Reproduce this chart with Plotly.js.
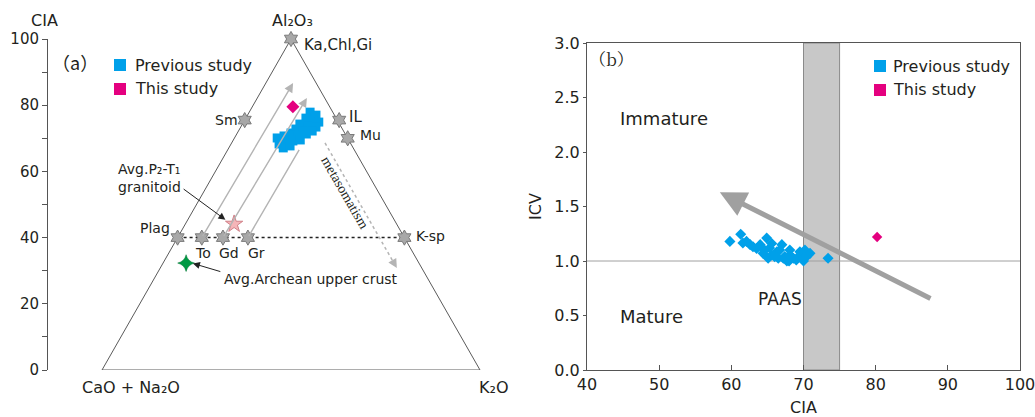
<!DOCTYPE html>
<html><head><meta charset="utf-8">
<script src="https://cdn.plot.ly/plotly-3.0.1.min.js"></script>
<style>html,body{margin:0;padding:0;background:#fff}</style>
</head><body><div id="chart" style="width:1035px;height:417px"></div>
<script>
// ---------- Panel (a): A-CN-K ternary (values in % : Al2O3 = CIA, K2O) ----------
const triAl = [0, 0, 100, 0];
const triK  = [0, 100, 0, 0];
const mineralNames = ['Ka,Chl,Gi','Sm','IL','Mu','Plag','To','Gd','Gr','K-sp'];
const mineralAl = [100, 75.5, 75.5, 70, 40, 40, 40, 40, 40];
const mineralK  = [0, 0, 25, 30, 0, 6.4, 12, 18.6, 60];
const prevAl = [77.9,77.0,76.1,75.5,74.9,74.3,73.7,73.4,72.8,72.2,72.2,71.6,70.1,70.7,71.0,70.7,68.3,68.9,69.2,69.5,67.1,67.7,71.3];
const prevK  = [16.1,18.1,15.9,18.1,19.9,15.2,17.6,19.9,14.9,17.1,19.5,14.2,11.3,12.8,14.5,16.5,12.7,14.3,15.9,17.7,14.4,15.9,18.4];
const thisAl = [79.5], thisK = [10.75];
const granitoidAl = [44.1], granitoidK = [12.9];
const archeanAl = [32.3], archeanK = [6.1];
const trendFrom = ['To','Gd','Gr'];
const trendTipAl = [86.7, 82.2, 66.5];
const trendTipK  = [7.2, 13.1, 18.9];
const metaAl = [68.6, 30.8], metaK = [24.7, 62.6];

// ---------- Panel (b): CIA vs ICV ----------
const prevCIA = [59.8,61.3,61.6,62.1,62.6,63.0,63.5,64.0,64.4,64.6,64.9,65.1,65.3,65.6,65.6,66.0,66.3,66.5,66.7,67.0,67.2,67.4,67.7,67.9,68.1,68.1,68.6,69.0,69.3,69.5,69.7,70.0,70.2,70.4,70.9,73.4,68.0,70.0];
const prevICV = [1.18,1.245,1.165,1.18,1.15,1.13,1.115,1.15,1.07,1.10,1.21,1.025,1.12,1.055,1.16,1.04,1.085,1.025,1.10,1.15,1.025,1.04,1.0,1.01,1.055,1.10,1.025,1.01,1.04,1.085,1.055,1.025,1.10,1.04,1.07,1.025,1.0,1.0];
const thisCIA = [80.2], thisICV = [1.22];
const paasCIA = [70, 75];
const icvLimit = 1.0;
const trendB = {fromCIA: 87.8, fromICV: 0.65, toCIA: 58.4, toICV: 1.63};

const W = 1035, H = 417;
const FONT = 'DejaVu Sans, Liberation Sans, sans-serif';
const TXT = '#231f20';
const BLUE = '#00a0e9', PINK = '#e4007f';
const tx = (a, k) => k + a / 2;           // ternary -> cartesian x
const projX = (A, K) => A.map((a, i) => tx(a, K[i]));
const mi = n => mineralNames.indexOf(n);

const traces = [
  {x: projX(triAl, triK), y: triAl, mode: 'lines', line: {color: '#5a5a5a', width: 1}, hoverinfo: 'skip', xaxis: 'x', yaxis: 'y'},
  {x: [tx(mineralAl[mi('Plag')], mineralK[mi('Plag')]), tx(mineralAl[mi('K-sp')], mineralK[mi('K-sp')])],
   y: [mineralAl[mi('Plag')], mineralAl[mi('K-sp')]], mode: 'lines',
   line: {color: '#222', width: 1.5, dash: 'dot'}, xaxis: 'x', yaxis: 'y'},
  {x: [tx(metaAl[0], metaK[0]), tx(metaAl[0] + (metaAl[1]-metaAl[0])*0.95, metaK[0] + (metaK[1]-metaK[0])*0.95)],
   y: [metaAl[0], metaAl[0] + (metaAl[1]-metaAl[0])*0.95], mode: 'lines',
   line: {color: '#b4b4b4', width: 1.5, dash: 'dot'}, xaxis: 'x', yaxis: 'y'},
  {x: projX(mineralAl, mineralK), y: mineralAl, mode: 'markers', cliponaxis: false,
   marker: {symbol: 'hexagram', size: 11.5, color: '#a8a8a8', line: {color: '#7a7a7a', width: 1}}, xaxis: 'x', yaxis: 'y'},
  {x: projX(prevAl, prevK), y: prevAl, mode: 'markers', cliponaxis: false,
   marker: {symbol: 'square', size: 9, color: BLUE}, xaxis: 'x', yaxis: 'y'},
  {x: projX(thisAl, thisK), y: thisAl, mode: 'markers',
   marker: {symbol: 'diamond', size: 10, color: PINK}, xaxis: 'x', yaxis: 'y'},
  {x: projX(granitoidAl, granitoidK), y: granitoidAl, mode: 'markers',
   marker: {symbol: 'star', size: 13, color: '#f5b5b8', line: {color: '#d08088', width: 1}}, xaxis: 'x', yaxis: 'y'},
  {x: projX(archeanAl, archeanK), y: archeanAl, mode: 'markers',
   marker: {symbol: 'star-diamond', size: 12, color: '#009944', line: {color: '#007733', width: 0.5}}, xaxis: 'x', yaxis: 'y'},
  // panel b
  {x: prevCIA, y: prevICV, mode: 'markers', marker: {symbol: 'diamond', size: 8.5, color: BLUE}, xaxis: 'x2', yaxis: 'y2'},
  {x: thisCIA, y: thisICV, mode: 'markers', marker: {symbol: 'diamond', size: 8, color: PINK}, xaxis: 'x2', yaxis: 'y2'}
];

const P = (text, px, py, o = {}) => Object.assign({
  text, x: px / W, y: 1 - py / H, xref: 'paper', yref: 'paper', showarrow: false,
  xanchor: 'center', yanchor: 'middle', font: {family: FONT, size: 14, color: TXT}
}, o);
const F = (size, family) => ({family: family || FONT, size, color: TXT});

const annotations = [
  // panel a text
  P('CIA', 44, 20, {font: F(16)}),
  P('Al₂O₃', 292, 20, {font: F(16)}),
  P('CaO + Na₂O', 131, 387, {font: F(16)}),
  P('K₂O', 494, 387, {font: F(16)}),
  P('（a）', 75, 62, {font: F(18, 'Noto Sans CJK SC')}),
  P('Ka,Chl,Gi', 302, 45, {xanchor: 'left', font: F(15)}),
  P('Sm', 240, 120, {xanchor: 'right'}),
  P('IL', 347, 117, {xanchor: 'left', font: F(15)}),
  P('Mu', 358, 135, {xanchor: 'left'}),
  P('Plag', 172, 228, {xanchor: 'right'}),
  P('To', 203, 253), P('Gd', 229, 253), P('Gr', 256, 253),
  P('K-sp', 414, 236, {xanchor: 'left'}),
  P('Avg.P₂-T₁<br>granitoid', 116, 178, {xanchor: 'left', align: 'left'}),
  P('Avg.Archean upper crust', 222, 279, {xanchor: 'left'}),
  P('metasomatism', 345, 192, {textangle: 60, font: F(14, 'Liberation Serif, serif')}),
  P('Previous study', 133, 65, {xanchor: 'left', font: F(16)}),
  P('This study', 133, 88.5, {xanchor: 'left', font: F(16)}),
  // panel b text
  P('（b）', 611, 58, {font: F(17, 'Noto Serif CJK SC, Noto Sans CJK SC')}),
  P('Previous study', 891, 66, {xanchor: 'left', font: F(16)}),
  P('This study', 891, 89.5, {xanchor: 'left', font: F(16)}),
  {text: 'Immature', x: 44.3, y: 2.31, xref: 'x2', yref: 'y2', xanchor: 'left', showarrow: false, font: F(18)},
  {text: 'Mature', x: 44.3, y: 0.49, xref: 'x2', yref: 'y2', xanchor: 'left', showarrow: false, font: F(18)},
  {text: 'PAAS', x: 66.7, y: 0.65, xref: 'x2', yref: 'y2', showarrow: false, font: F(17)},
  {text: '', x: trendB.toCIA, y: trendB.toICV, ax: trendB.fromCIA, ay: trendB.fromICV,
   xref: 'x2', yref: 'y2', axref: 'x2', ayref: 'y2', showarrow: true,
   arrowhead: 2, arrowsize: 1.05, arrowwidth: 5, arrowcolor: '#a0a0a0'}
];
// gray trend arrows in panel a
trendFrom.forEach((n, i) => {
  const i0 = mi(n);
  annotations.push({text: '', x: tx(trendTipAl[i], trendTipK[i]), y: trendTipAl[i],
    ax: tx(mineralAl[i0], mineralK[i0]), ay: mineralAl[i0], xref: 'x', yref: 'y', axref: 'x', ayref: 'y',
    showarrow: true, arrowhead: i < 2 ? 2 : 0, arrowsize: 1.3, arrowwidth: 1.4, arrowcolor: '#b4b4b4'});
});
// metasomatism arrowhead
annotations.push({text: '', x: tx(metaAl[1], metaK[1]), y: metaAl[1],
  ax: tx(metaAl[0] + (metaAl[1]-metaAl[0])*0.93, metaK[0] + (metaK[1]-metaK[0])*0.93),
  ay: metaAl[0] + (metaAl[1]-metaAl[0])*0.93, xref: 'x', yref: 'y', axref: 'x', ayref: 'y',
  showarrow: true, arrowhead: 2, arrowsize: 1.3, arrowwidth: 1.4, arrowcolor: '#b4b4b4'});
// leader lines
annotations.push({text: '', x: tx(granitoidAl[0], granitoidK[0]) - 2.3, y: granitoidAl[0] + 1.3,
  ax: 21.2, ay: 55.0, xref: 'x', yref: 'y', axref: 'x', ayref: 'y',
  showarrow: true, arrowhead: 2, arrowsize: 1.4, arrowwidth: 1, arrowcolor: '#222'});
annotations.push({text: '', x: tx(archeanAl[0], archeanK[0]) + 1.8, y: archeanAl[0] - 0.1,
  ax: 31.7, ay: 29.6, xref: 'x', yref: 'y', axref: 'x', ayref: 'y',
  showarrow: true, arrowhead: 2, arrowsize: 1.4, arrowwidth: 1, arrowcolor: '#222'});

const R = (x0, y0, x1, y1, color) => ({type: 'rect', xref: 'paper', yref: 'paper',
  x0: x0 / W, x1: x1 / W, y0: 1 - y1 / H, y1: 1 - y0 / H, fillcolor: color, line: {width: 0}});

const shapes = [
  {type: 'rect', xref: 'x2', yref: 'y2', x0: paasCIA[0], x1: paasCIA[1], y0: 0, y1: 3,
   fillcolor: '#c8c8c8', line: {color: '#8a8a8a', width: 1}, layer: 'below'},
  {type: 'line', xref: 'x2', yref: 'y2', x0: 40, x1: 100, y0: icvLimit, y1: icvLimit,
   line: {color: '#a0a0a0', width: 1}, layer: 'below'},
  R(114, 59, 126, 71, BLUE), R(114, 83, 126, 95, PINK),
  R(874, 60, 886, 72, BLUE), R(874, 84, 886, 96, PINK)
];

const axCommon = {showgrid: false, zeroline: false, showline: true, linecolor: '#555', linewidth: 1,
  tickcolor: '#555', tickfont: {family: FONT, size: 16, color: TXT}};

const layout = {
  width: W, height: H, margin: {l: 0, r: 0, t: 0, b: 0},
  paper_bgcolor: '#fff', plot_bgcolor: 'rgba(0,0,0,0)', showlegend: false,
  font: {family: FONT, color: TXT},
  xaxis: {domain: [48 / W, 520 / W], range: [(48 - 102) / 3.78, (520 - 102) / 3.78], visible: false, fixedrange: true},
  yaxis: Object.assign({}, axCommon, {domain: [1 - 370 / H, 1 - 39 / H], range: [0, 100], anchor: 'x',
    tick0: 0, dtick: 20, ticks: 'outside', ticklen: 5, tickfont: {family: FONT, size: 15, color: TXT},
    ticklabeloverflow: 'allow',
    minor: {dtick: 10, ticks: 'outside', ticklen: 5, tickcolor: '#555', showgrid: false}}),
  xaxis2: Object.assign({}, axCommon, {domain: [587 / W, 1020 / W], range: [40, 100], anchor: 'y2',
    dtick: 10, ticks: 'inside', ticklen: 5, mirror: true, ticklabeloverflow: 'allow',
    title: {text: 'CIA', font: {family: FONT, size: 16, color: TXT}, standoff: 8}}),
  yaxis2: Object.assign({}, axCommon, {domain: [1 - 370 / H, 1 - 43 / H], range: [0, 3], anchor: 'x2',
    dtick: 0.5, tickformat: '.1f', ticks: 'outside', ticklen: 3, mirror: true, ticklabeloverflow: 'allow',
    title: {text: 'ICV', font: {family: FONT, size: 16, color: TXT}, standoff: 8}}),
  shapes, annotations
};

Plotly.newPlot('chart', traces, layout, {displayModeBar: false, staticPlot: true});
</script></body></html>
